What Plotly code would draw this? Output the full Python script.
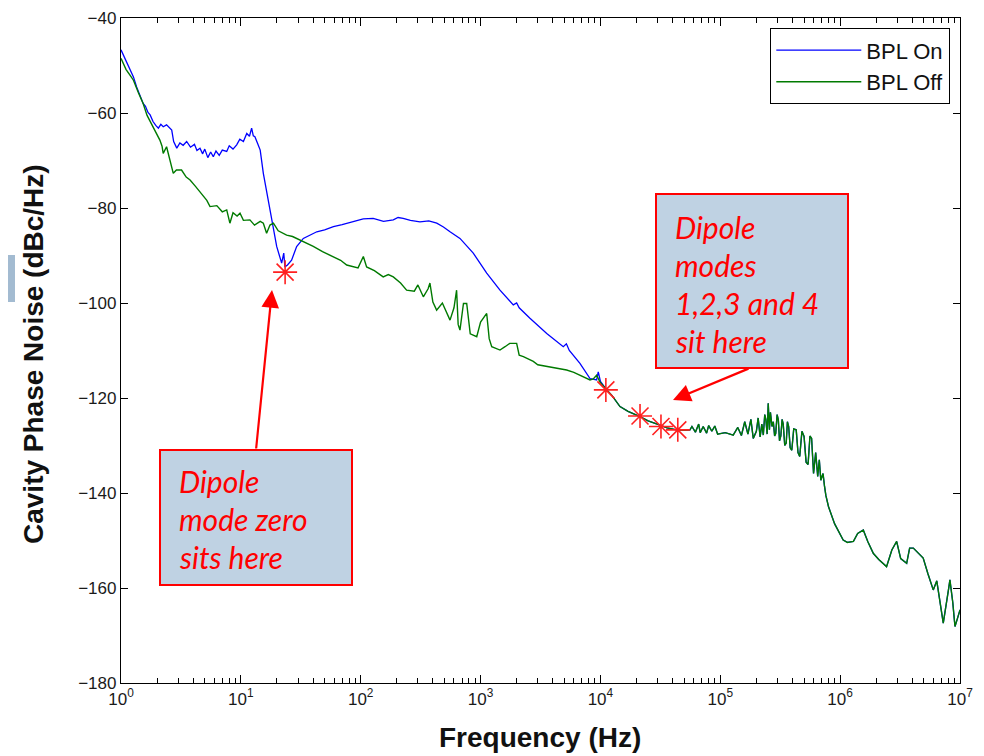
import plotly.graph_objects as go

# ---------------- data ----------------
freq_on_low = [1.0, 1.1, 1.2, 1.27, 1.35, 1.45, 1.53, 1.6, 1.68, 1.75, 1.85, 1.95, 2.05, 2.15, 2.25,
               2.4, 2.5, 2.65, 2.75, 2.92, 3.1, 3.3, 3.53, 3.8, 4.1, 4.3, 4.56, 4.8, 5.0, 5.3, 5.6,
               5.89, 6.2, 6.6, 7.0, 7.62, 8.0, 8.6, 9.23, 9.8, 10.5, 11.2, 11.8, 12.3, 12.7, 13.1,
               13.8, 14.5, 15.4, 16.9, 18.1, 19.9, 21.9, 22.8, 23.3, 24.5, 26.5, 29.2, 33.2, 37,
               43.0, 50, 59.2, 70, 86.7, 105, 127, 155, 187, 205, 226, 260, 312, 370, 431, 490,
               556, 673, 869, 1125, 1452, 1875, 2000, 2100, 2582, 3565, 4898, 5200, 5500, 6745,
               8185, 9290, 9594, 10000]
phase_on_low = [-46.7, -49.0, -51.0, -52.4, -54.5, -56.5, -58.0, -58.6, -59.9, -60.4, -61.8, -62.6,
                -63.2, -62.4, -62.9, -62.5, -63.0, -63.6, -66.0, -67.4, -66.3, -66.8, -66.0, -67.2,
                -66.6, -67.9, -67.4, -68.6, -67.6, -69.4, -68.2, -69.2, -68.0, -68.9, -67.8, -68.1,
                -66.9, -67.6, -66.7, -65.5, -66.0, -64.3, -64.9, -63.2, -64.8, -65.0, -66.4, -67.8,
                -72.7, -78.3, -82.5, -88.1, -91.6, -89.5, -92.4, -92.0, -91.0, -88.1, -86.4, -85.8,
                -85.0, -84.6, -83.9, -83.5, -82.9, -82.3, -82.2, -82.8, -82.5, -82.0, -82.2, -82.6,
                -82.9, -82.7, -83.2, -84.0, -85.0, -86.4, -89.5, -93.7, -97.3, -100.4, -100.0,
                -101.0, -103.2, -106.4, -109.2, -108.6, -110.0, -112.7, -115.9, -116.2, -114.5,
                -116.5]

freq_off_low = [1.0, 1.1, 1.2, 1.27, 1.4, 1.53, 1.65, 1.86, 2.0, 2.11, 2.2, 2.25, 2.4, 2.55, 2.73,
                2.9, 3.2, 3.5, 3.77, 4.2, 4.86, 5.2, 5.53, 6.3, 7.0, 7.62, 8.1, 8.6, 9.3, 9.84,
                10.5, 11.9, 13.0, 14.5, 15.4, 16.4, 17.5, 18.7, 20.5, 24.1, 27, 31.1, 35, 40.2, 48,
                59.2, 68, 76.4, 95, 105.2, 112, 130, 154, 170, 187, 215, 241.5, 280, 300, 333, 365,
                378, 400, 430, 480, 556, 600, 631, 650, 673, 720, 766, 820, 929, 1000, 1125, 1180,
                1239, 1452, 1600, 1750, 2000, 2100, 2276, 2754, 3000, 3793, 4500, 5224, 6000, 7194,
                8185, 8710, 9290, 10000]
phase_off_low = [-48.5, -50.8, -52.2, -53.1, -55.8, -58.0, -60.5, -62.9, -64.5, -65.7, -67.0, -68.5,
                 -67.1, -70.0, -72.7, -72.0, -72.0, -73.5, -74.1, -75.5, -77.6, -78.4, -79.7, -79.5,
                 -80.8, -80.4, -83.2, -81.0, -81.7, -81.1, -82.6, -82.5, -83.6, -82.8, -83.2, -85.3,
                 -83.6, -83.2, -84.8, -85.7, -86.0, -86.7, -87.4, -88.1, -89.2, -90.2, -91.0, -92.0,
                 -92.6, -90.2, -92.4, -93.2, -94.5, -94.0, -94.5, -95.8, -97.3, -97.5, -96.2, -98.7,
                 -97.0, -95.8, -99.8, -101.5, -100.0, -103.6, -101.0, -97.3, -104.5, -105.7, -100.1,
                 -100.1, -106.5, -107.1, -104.0, -102.2, -107.5, -109.2, -109.9, -109.2, -108.5,
                 -108.5, -111.0, -111.3, -112.3, -113.0, -113.4, -113.8, -114.1, -114.6, -115.5,
                 -116.2, -116.0, -115.2, -116.8]

# high-frequency part where both traces coincide
freq_tail = [11270, 12500, 14560, 17000, 21380, 25000, 31410, 36000, 43250, 50000, 55850, 58000,
             62000, 66000, 68000, 72000, 76900, 80000, 85000, 90000, 95000, 110000, 128200, 140000,
             150000, 160000, 170000, 180000, 188400, 200000, 207000, 215000, 222000, 228600, 235000,
             240000, 246000, 251200, 257000, 262000, 270000, 277000, 284000, 290000, 298000,
             305000, 312000, 320000, 328000, 335000, 345000, 355000, 363000, 372000, 383000,
             395000, 410000, 430000, 445000, 460000, 480000, 500000, 520000, 540000, 560000,
             578000, 600000, 625000, 650000, 670000, 690000, 720000, 740000, 760000, 800000,
             900000, 1060000, 1150000, 1290000, 1400000, 1560000, 1700000, 1890000, 2100000,
             2440000, 2700000, 2960000, 3200000, 3590000, 3800000, 4080000, 4500000, 4930000,
             5400000, 5980000, 6400000, 7250000, 8000000, 8240000, 8700000, 9080000, 9500000,
             10000000]
phase_tail = [-118.3, -119.5, -121.8, -122.8, -123.9, -124.8, -125.7, -126.3, -126.7, -126.8,
              -126.7, -126.0, -127.2, -125.5, -127.3, -126.0, -127.4, -125.8, -127.0, -125.9,
              -127.6, -127.3, -127.8, -126.2, -127.9, -125.0, -127.6, -124.5, -128.5, -127.0,
              -124.2, -128.2, -125.5, -127.8, -123.5, -124.5, -127.6, -121.1, -126.7, -123.0,
              -126.0, -125.0, -128.0, -127.5, -123.5, -124.6, -129.0, -128.0, -124.5, -125.5,
              -130.0, -129.5, -125.0, -126.0, -130.5, -131.0, -126.5, -126.7, -131.5, -132.3,
              -127.0, -128.1, -133.5, -134.0, -128.0, -128.5, -135.9, -131.5, -136.5, -133.0,
              -137.3, -135.9, -138.5, -140.5, -142.9, -146.5, -149.9, -150.4, -150.2, -148.5,
              -147.8, -150.2, -152.7, -154.0, -155.5, -152.0, -150.2, -153.8, -154.8, -151.6,
              -151.6, -152.8, -153.7, -157.0, -160.4, -158.5, -167.4, -160.5, -158.3, -163.0,
              -168.1, -166.5, -164.6]

mode_freq = [23.4, 11100, 21400, 32000, 44200]
mode_phase = [-93.5, -118.3, -123.8, -126.0, -126.7]

x_tickvals = [1, 10, 100, 1000, 10000, 100000, 1000000, 10000000]
x_ticktext = ["10<sup>0</sup>", "10<sup>1</sup>", "10<sup>2</sup>", "10<sup>3</sup>",
              "10<sup>4</sup>", "10<sup>5</sup>", "10<sup>6</sup>", "10<sup>7</sup>"]
y_tickvals = [-40, -60, -80, -100, -120, -140, -160, -180]

# ---------------- figure geometry (page px -> figure) ----------------
OFF = 8  # page body margin
W, H = 976, 748
L, T = 121 - OFF, 18 - OFF
PW, PH = 960 - 121, 683 - 18
R, B = W - L - PW, H - T - PH


def px(xp):
    return (xp - OFF - L) / PW


def py(yp):
    return (T + PH - (yp - OFF)) / PH


fig = go.Figure()
fig.add_trace(go.Scatter(x=freq_on_low + freq_tail, y=phase_on_low + phase_tail, mode="lines",
                         name="BPL On", line=dict(color="#0000FF", width=1.3)))
fig.add_trace(go.Scatter(x=freq_off_low + freq_tail, y=phase_off_low + phase_tail, mode="lines",
                         name="BPL Off", line=dict(color="#007A00", width=1.4)))
fig.add_trace(go.Scatter(x=mode_freq, y=mode_phase, mode="markers", showlegend=False,
                         marker=dict(symbol="asterisk-open", size=20, color="#FF2020",
                                     line=dict(color="#FF2020", width=1.6))))
# invisible helper trace for the mirrored top axis
fig.add_trace(go.Scatter(x=[1, 10000000], y=[-180, -180], mode="lines", xaxis="x2",
                         showlegend=False, hoverinfo="skip", line=dict(width=0),
                         opacity=0))

tickfont = dict(family="Liberation Sans, Arial, sans-serif", size=17, color="#1a1a1a")
minor = dict(dtick="D1", ticks="inside", ticklen=5, tickcolor="black", tickwidth=1.2,
             showgrid=False)
fig.update_layout(
    xaxis=dict(type="log", range=[0, 7], tickvals=x_tickvals, ticktext=x_ticktext,
               ticks="inside", ticklen=8, tickcolor="black", tickwidth=1.2,
               showline=True, linecolor="black", linewidth=1.3, mirror=True,
               showgrid=False, zeroline=False, tickfont=tickfont, minor=minor),
    xaxis2=dict(type="log", range=[0, 7], overlaying="x", side="top", tickvals=x_tickvals,
                ticks="inside", ticklen=8, tickcolor="black", tickwidth=1.2,
                showticklabels=False, showline=False, showgrid=False, zeroline=False,
                minor=minor),
    yaxis=dict(range=[-180, -40], tickvals=y_tickvals, ticks="inside", ticklen=7,
               tickcolor="black", tickwidth=1.2, showline=True, linecolor="black",
               linewidth=1.3, mirror="ticks", showgrid=False, zeroline=False,
               tickfont=tickfont),
)

box_fill = "#BFD2E3"
shapes = [
    dict(type="rect", xref="paper", yref="paper", x0=px(160), x1=px(352), y0=py(585), y1=py(450),
         fillcolor=box_fill, line=dict(color="#FF0000", width=2), layer="above"),
    dict(type="rect", xref="paper", yref="paper", x0=px(656), x1=px(848), y0=py(368), y1=py(194),
         fillcolor=box_fill, line=dict(color="#FF0000", width=2), layer="above"),
    dict(type="rect", xref="paper", yref="paper", x0=px(OFF), x1=px(15), y0=py(302),
         y1=py(255), fillcolor="#A3BBD1", line=dict(width=0), layer="above"),
]

annfont = dict(family="Lato, sans-serif", size=30, color="#FF0000")
annotations = []
for i, t in enumerate(["Dipole", "mode zero", "sits here"]):
    annotations.append(dict(xref="paper", yref="paper", x=px(177), y=py(481 + 38 * i),
                            text="<i>" + t + "</i>", showarrow=False, xanchor="left",
                            yanchor="middle", font=annfont))
for i, t in enumerate(["Dipole", "modes", "1,2,3 and 4", "sit here"]):
    annotations.append(dict(xref="paper", yref="paper", x=px(673), y=py(227 + 38 * i),
                            text="<i>" + t + "</i>", showarrow=False, xanchor="left",
                            yanchor="middle", font=annfont))
# arrows
annotations.append(dict(xref="paper", yref="paper", x=px(272), y=py(290), ax=256 - 272,
                        ay=450 - 290, axref="pixel", ayref="pixel", text="", showarrow=True,
                        arrowhead=2, arrowsize=1.6, arrowwidth=2.2, arrowcolor="#FF0000"))
annotations.append(dict(xref="paper", yref="paper", x=px(673), y=py(400), ax=750 - 673,
                        ay=368 - 400, axref="pixel", ayref="pixel", text="", showarrow=True,
                        arrowhead=2, arrowsize=1.6, arrowwidth=2.2, arrowcolor="#FF0000"))
# axis titles
annotations.append(dict(xref="paper", yref="paper", x=px(33), y=py(354),
                        xanchor="center", yanchor="middle",
                        text="<b>Cavity Phase Noise (dBc/Hz)</b>", textangle=-90,
                        showarrow=False, font=dict(family="Liberation Sans, Arial", size=28,
                                                   color="#111")))
annotations.append(dict(xref="paper", yref="paper", x=px(540), y=py(737),
                        xanchor="center", yanchor="middle",
                        text="<b>Frequency (Hz)</b>", showarrow=False,
                        font=dict(family="Liberation Sans, Arial", size=28, color="#111")))

fig.update_layout(
    width=W, height=H, margin=dict(l=L, r=R, t=T, b=B, autoexpand=False),
    paper_bgcolor="white", plot_bgcolor="white",
    shapes=shapes, annotations=annotations,
    legend=dict(x=px(950), y=py(28), xanchor="right", yanchor="top",
                bordercolor="black", borderwidth=1.3, bgcolor="white",
                font=dict(family="Liberation Sans, Arial", size=22, color="#111"),
                itemwidth=85, tracegroupgap=0),
)

fig.write_html("out.html")
